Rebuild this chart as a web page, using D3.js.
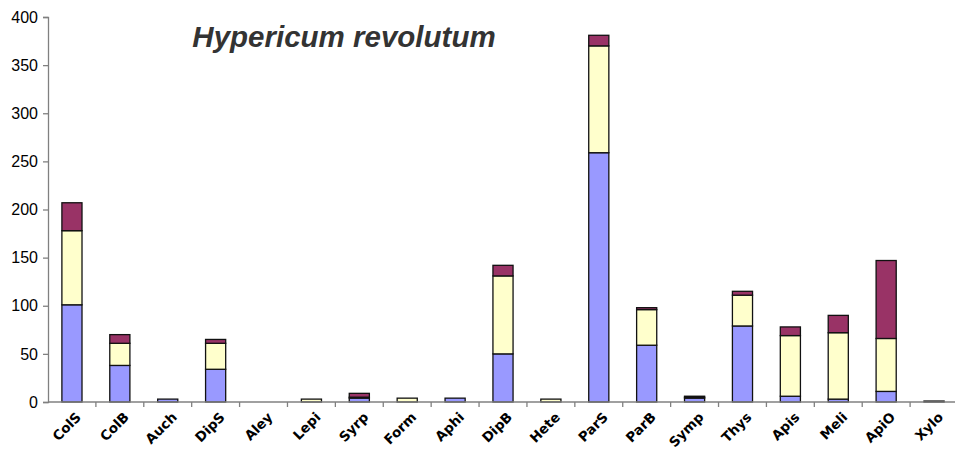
<!DOCTYPE html>
<html>
<head>
<meta charset="utf-8">
<script src="https://cdn.jsdelivr.net/npm/d3@7/dist/d3.min.js"></script>
<style>
  html, body { margin: 0; padding: 0; background: #fff; }
  svg { display: block; }
</style>
</head>
<body>
<script>
const categories = ["ColS","ColB","Auch","DipS","Aley","Lepi","Syrp","Form","Aphi","DipB","Hete","ParS","ParB","Symp","Thys","Apis","Meli","ApiO","Xylo"];
const seriesBlue   = [101, 38, 3, 34, 0, 0, 4, 0, 4, 50, 0, 259, 59, 4, 79, 6, 3, 11, 0];
const seriesYellow = [ 77, 23, 0, 27, 0, 3, 1, 4, 0, 81, 3, 111, 37, 1, 32, 63, 69, 55, 0];
const seriesMaroon = [ 29,  9, 0,  4, 0, 0, 4, 0, 0, 11, 0,  11,  2, 1,  4,  9, 18, 81, 1];
const yTicks = [0, 50, 100, 150, 200, 250, 300, 350, 400];
const titleText = "Hypericum revolutum";

const W = 955, H = 451;
const svg = d3.select("body").append("svg").attr("width", W).attr("height", H);

const x = d3.scaleBand().domain(categories).range([48, 958]).paddingInner(0.58).paddingOuter(0.29);
const xb = d3.scaleBand().domain(categories).range([48, 958]);
const y = d3.scaleLinear().domain([0, 400]).range([402, 17]);

const keys = ["blue", "yellow", "maroon"];
const colors = { blue: "#9999FF", yellow: "#FFFFCC", maroon: "#993366" };
const rows = categories.map((c, i) => ({ cat: c, blue: seriesBlue[i], yellow: seriesYellow[i], maroon: seriesMaroon[i] }));
const stacked = d3.stack().keys(keys)(rows);

stacked.forEach(layer => {
  svg.append("g").selectAll("rect")
    .data(layer.filter(d => d[1] - d[0] > 0))
    .join("rect")
    .attr("x", d => x(d.data.cat))
    .attr("width", x.bandwidth())
    .attr("y", d => y(d[1]))
    .attr("height", d => y(d[0]) - y(d[1]))
    .attr("fill", colors[layer.key])
    .attr("stroke", "#111")
    .attr("stroke-width", 1.3);
});

const yAxis = d3.axisLeft(y).tickValues(yTicks).tickSize(5).tickPadding(5);
const gy = svg.append("g").attr("transform", "translate(48,0)").call(yAxis);
gy.select(".domain").attr("stroke", "#808080").attr("stroke-width", 1.3);
gy.selectAll(".tick line").attr("stroke", "#808080").attr("stroke-width", 1.3);
gy.selectAll(".tick text").attr("font-family", "Liberation Sans, Arial, sans-serif").attr("font-size", 16).attr("fill", "#000");

svg.append("line").attr("x1", 48).attr("x2", 958).attr("y1", y(0)).attr("y2", y(0))
  .attr("stroke", "#808080").attr("stroke-width", 1.3);
svg.append("g").selectAll("line")
  .data(categories.slice(1).concat(["__end"]))
  .join("line")
  .attr("x1", d => d === "__end" ? 958 : xb(d))
  .attr("x2", d => d === "__end" ? 958 : xb(d))
  .attr("y1", y(0)).attr("y2", y(0) + 5)
  .attr("stroke", "#808080").attr("stroke-width", 1.3);

const labelGroups = svg.append("g").selectAll("g")
  .data(categories)
  .join("g")
  .attr("transform", d => "translate(" + (xb(d) + xb.bandwidth() / 2 + 10) + "," + (y(0) + 16) + ")");
labelGroups.append("g")
  .attr("transform", "rotate(-45)")
  .append("text")
  .attr("x", 0).attr("y", 0)
  .attr("text-anchor", "end")
  .attr("font-family", "DejaVu Sans, Verdana, sans-serif")
  .attr("font-weight", "bold")
  .attr("font-size", 13.5)
  .attr("fill", "#000")
  .text(d => d);

svg.append("text")
  .attr("x", 344).attr("y", 47)
  .attr("text-anchor", "middle")
  .attr("font-family", "Liberation Sans, Arial, sans-serif")
  .attr("font-weight", "bold")
  .attr("font-style", "italic")
  .attr("font-size", 29.5)
  .attr("fill", "#333")
  .text(titleText);
</script>
</body>
</html>
